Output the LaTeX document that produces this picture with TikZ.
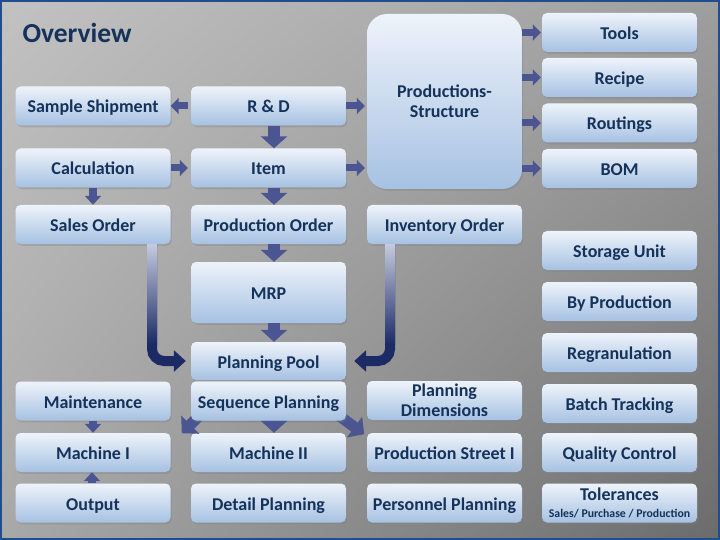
\documentclass[tikz,border=0pt]{standalone}
\usepackage{fontspec}
\setmainfont{Carlito}
\usetikzlibrary{shadows,shadings,arrows.meta}
\definecolor{navy}{HTML}{14325A}
\definecolor{boxtop}{HTML}{EEF3FA}
\definecolor{boxbot}{HTML}{A6C1E2}
\definecolor{arrowblue}{HTML}{4B5592}
\definecolor{arrowdark}{HTML}{1C2A66}
\definecolor{arrowlight}{HTML}{C4CADF}
\definecolor{frameblue}{HTML}{1F4E8C}

\begin{document}
\begin{tikzpicture}[x=1pt,y=-1pt,every node/.style={font=\bfseries\fontsize{18}{20}\selectfont,text=navy}]
\tikzset{box/.style={rounded corners=5pt,top color=boxtop,bottom color=boxbot,minimum width=155pt,minimum height=39pt,align=center,inner sep=1pt,
    text height=14pt,text depth=0pt,drop shadow={opacity=0.35,shadow xshift=1.2pt,shadow yshift=-1.8pt}},
  twoline/.style={text height={},text depth={}},
  harrow/.style={draw=arrowblue,line width=7pt,-{Triangle[length=8pt,width=16pt]}},
  varrow/.style={draw=arrowblue,line width=12pt,-{Triangle[length=12pt,width=26pt]}},
  sarrow/.style={draw=arrowblue,line width=8pt,-{Triangle[length=9pt,width=16pt]}},
  darrow/.style={draw=arrowblue,line width=11pt,-{Triangle[length=12pt,width=25pt]}},
  curvearrow/.style={draw=arrowdark,line width=10pt,rounded corners=12pt,-{Triangle[length=12pt,width=21pt]}}}
% background
\useasboundingbox (0,0) rectangle (720,540);
\shade[upper left=black!24,upper right=black!38,lower left=black!34,lower right=black!58] (0,0) rectangle (720,540);
\draw[frameblue,line width=2pt] (1,1) rectangle (719,539);
\node[font=\bfseries\fontsize{27.5}{30}\selectfont,anchor=west] (title) at (19,33) {Overview};
% boxes
\node[box] (ss) at (93,106) {Sample Shipment};
\node[box] (rd) at (268.5,106) {R \& D};
\node[box] (calc) at (93,168) {Calculation};
\node[box] (item) at (268.5,168) {Item};
\node[box] (so) at (93,224.5) {Sales Order};
\node[box] (po) at (268.5,224.5) {Production Order};
\node[box] (io) at (444.5,224.5) {Inventory Order};
\node[box,minimum height=61pt] (mrp) at (268.5,292.5) {MRP};
\node[box,minimum height=38pt] (pp) at (268.5,361) {Planning Pool};
\node[box] (maint) at (93,401) {Maintenance};
\node[box] (m1) at (93,452.5) {Machine I};
\node[box] (m2) at (268.5,452.5) {Machine II};
\node[box] (pst) at (444.5,452.5) {Production Street I};
\node[box] (out) at (93,503) {Output};
\node[box] (dp) at (268.5,503) {Detail Planning};
\node[box] (pers) at (444.5,503) {Personnel Planning};
\node[box,twoline,rounded corners=20pt,minimum height=175pt] (ps) at (444.5,101.5) {Productions-\\Structure};
\node[box] (tools) at (619.5,32.5) {Tools};
\node[box] (recipe) at (619.5,77.5) {Recipe};
\node[box] (rout) at (619.5,123) {Routings};
\node[box] (bom) at (619.5,168.5) {BOM};
\node[box] (su) at (619.5,250.5) {Storage Unit};
\node[box] (byp) at (619.5,301.5) {By Production};
\node[box] (regr) at (619.5,352.5) {Regranulation};
\node[box] (bt) at (619.5,403.5) {Batch Tracking};
\node[box] (qc) at (619.5,452.5) {Quality Control};
\node[box,twoline] (tol) at (619.5,503) {Tolerances\\[-3pt]{\fontsize{11.8}{13}\selectfont Sales/ Purchase / Production}};
% diagonal arrows from sequence planning sit under its box
\node[box,minimum height=39pt] (seq) at (268.5,401) {};
\draw[darrow] ([xshift=12pt,yshift=8.5pt]seq.south west) -- ([xshift=-9pt,yshift=-12.5pt]seq.south west);
\draw[darrow] ([xshift=-12pt,yshift=8.5pt]seq.south east) -- ([xshift=18pt,yshift=-13.5pt]seq.south east);
\node[box,twoline] (pd) at (444.5,400.5) {Planning\\Dimensions};
\node[box] at (seq) {Sequence Planning};
% connectors
\draw[harrow,shorten <=3pt] (rd.west) -- (ss.east);
\draw[varrow] ([xshift=5.5pt]rd.south) -- ([xshift=5.5pt]item.north);
\draw[harrow] (rd.east) -- ([xshift=-2pt]rd.east -| ps.west);
\draw[harrow] (item.east) -- ([xshift=-2pt]item.east -| ps.west);
\draw[harrow] (calc.east) -- ([xshift=-3pt]item.west);
\draw[sarrow] (calc.south) -- (so.north);
\draw[varrow] ([xshift=5.5pt]item.south) -- ([xshift=5.5pt]po.north);
\draw[varrow] ([xshift=5.5pt]po.south) -- ([xshift=5.5pt]mrp.north);
\draw[varrow] ([xshift=5.5pt]mrp.south) -- ([xshift=5.5pt]pp.north);
\foreach \t in {tools,recipe,rout,bom}
  \draw[harrow] (ps.east |- \t.west) -- ([xshift=-1pt]\t.west);
\draw[sarrow] (maint.south) -- (m1.north);
\draw[sarrow] ([xshift=-1pt]out.north) -- ([xshift=-1pt]m1.south);
\draw[varrow] ([xshift=5.5pt]seq.south) -- ([xshift=5.5pt]m2.north);
% long bent arrows into the planning pool
\draw[curvearrow] ([xshift=59pt]so.south) |- ([xshift=-5pt]pp.west);
\shade[top color=arrowlight,bottom color=arrowdark] ([xshift=54pt]so.south) rectangle ([xshift=64pt,yshift=-100pt]so.south);
\draw[curvearrow] ([xshift=-54.5pt]io.south) |- ([xshift=8pt]pp.east);
\shade[top color=arrowlight,bottom color=arrowdark] ([xshift=-59.5pt]io.south) rectangle ([xshift=-49.5pt,yshift=-100pt]io.south);
\end{tikzpicture}
\end{document}
